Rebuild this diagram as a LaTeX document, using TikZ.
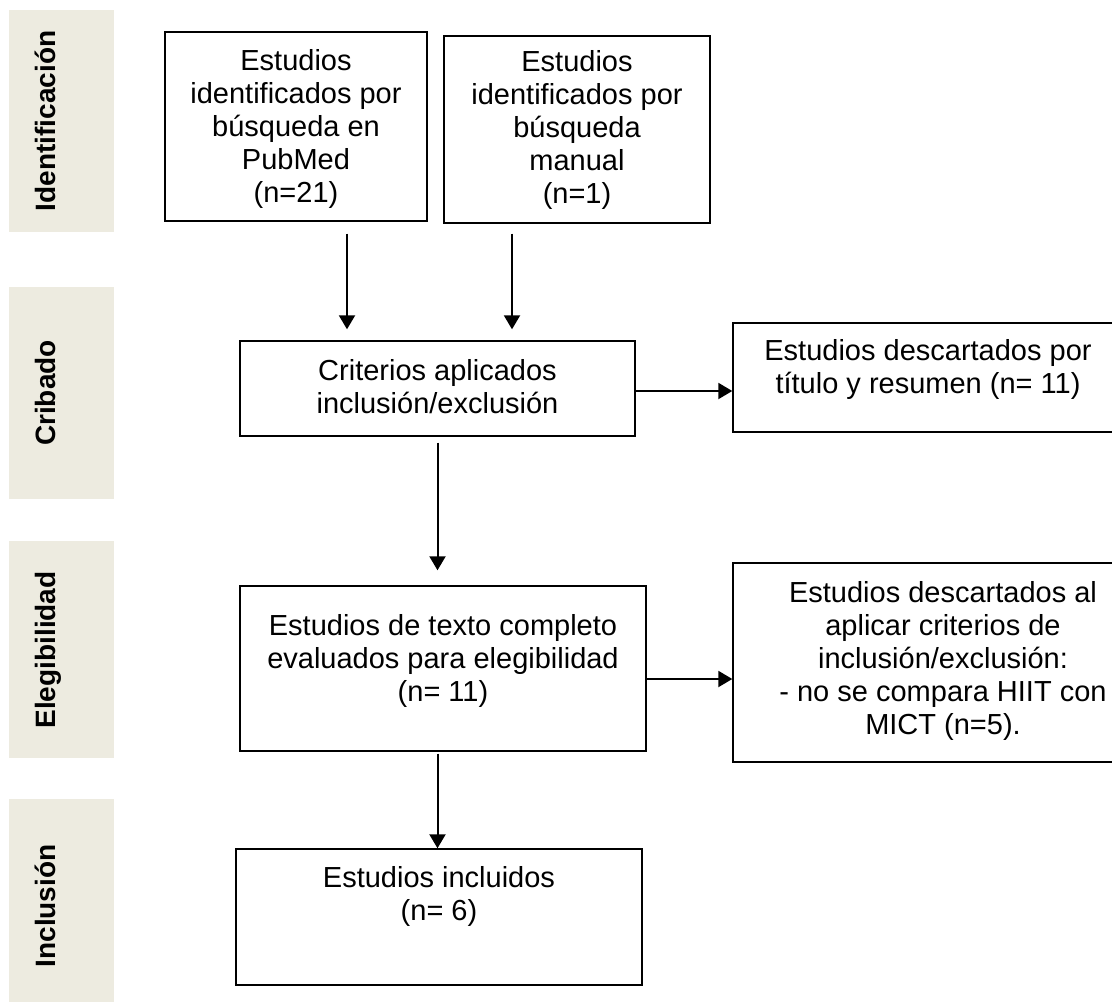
\documentclass[tikz,border=0pt]{standalone}
\usepackage{fontspec}
\setmainfont{Liberation Sans}
\usetikzlibrary{arrows.meta,calc}
\definecolor{barfill}{RGB}{237,235,224}
\begin{document}
\begin{tikzpicture}[x=1pt,y=-1pt,
  box/.style={draw=black, line width=1.4pt, rectangle, inner sep=0pt, fill=white},
  txt/.style={align=center, inner sep=0pt, font=\fontsize{29}{33}\selectfont},
  side/.style={rotate=90, anchor=base, inner sep=0pt, font=\bfseries\fontsize{28}{30}\selectfont},
  bar/.style={fill=barfill, draw=none},
  arr/.style={line width=2pt, -{Triangle[length=14pt,width=16pt]}}]
\useasboundingbox (0,0) rectangle (1112,1002);
\clip (0,0) rectangle (1112,1002);
% side bars
\fill[bar] (9,10) rectangle (114,232);
\fill[bar] (9,287) rectangle (114,499);
\fill[bar] (9,541) rectangle (114,758);
\fill[bar] (9,799) rectangle (114,1013);
\node[side] (l1) at (55,121) {Identificación};
\node[side] (l2) at (55,393) {Cribado};
\node[side] (l3) at (55,650) {Elegibilidad};
\node[side] (l4) at (55,906) {Inclusión};
% boxes
\node[box, minimum width=262pt, minimum height=189pt] (b1) at (296,126.5) {};
\node[box, minimum width=266pt, minimum height=187pt] (b2) at (577,129.5) {};
\node[box, minimum width=395pt, minimum height=95pt] (crit) at (437.5,388.5) {};
\node[box, minimum width=390pt, minimum height=109pt] (d1) at (928,377.5) {};
\node[box, minimum width=406pt, minimum height=165pt] (elig) at (443,668.5) {};
\node[box, minimum width=420pt, minimum height=199pt] (d2) at (943,662.5) {};
\node[box, minimum width=406pt, minimum height=136pt] (incl) at (439,917) {};
% texts
\node[txt] (t1) at ([yshift=-2pt]b1.center) {Estudios\\identificados por\\búsqueda en\\PubMed\\(n=21)};
\node[txt] (t2) at ([yshift=0pt]b2.center) {Estudios\\identificados por\\búsqueda\\manual\\(n=1)};
\node[txt] (t3) at ([yshift=2pt]crit.center) {Criterios aplicados\\inclusión/exclusión};
\node[txt] (t4) at ([yshift=8pt]d1.center) {Estudios descartados por\\título y resumen (n= 11)};
\node[txt] (t5) at ([yshift=8pt]elig.center) {Estudios de texto completo\\evaluados para elegibilidad\\(n= 11)};
\node[txt] (t6) at ([yshift=2pt]d2.center) {Estudios descartados al\\aplicar criterios de\\inclusión/exclusión:\\- no se compara HIIT con\\MICT (n=5).};
\node[txt] (t7) at ([yshift=21pt]incl.center) {Estudios incluidos\\(n= 6)};
% connectors
\draw[arr, shorten <=12pt, shorten >=11pt] ([xshift=51pt]b1.south) -- ([xshift=-90.5pt]crit.north);
\draw[arr, shorten <=10pt, shorten >=11pt] ([xshift=-65pt]b2.south) -- ([xshift=74.5pt]crit.north);
\coordinate (c1) at ([yshift=-2.5pt]crit.east);
\draw[arr] (c1) -- (c1 -| d1.west);
\coordinate (c2) at ([yshift=-10.5pt]elig.east);
\draw[arr] (c2) -- (c2 -| d2.west);
\draw[arr, shorten <=6pt, shorten >=15pt] (crit.south) -- (crit.south |- elig.north);
\coordinate (c3) at (crit.south |- elig.south);
\draw[arr, shorten <=2pt] (c3) -- (crit.south |- incl.north);
\end{tikzpicture}
\end{document}
